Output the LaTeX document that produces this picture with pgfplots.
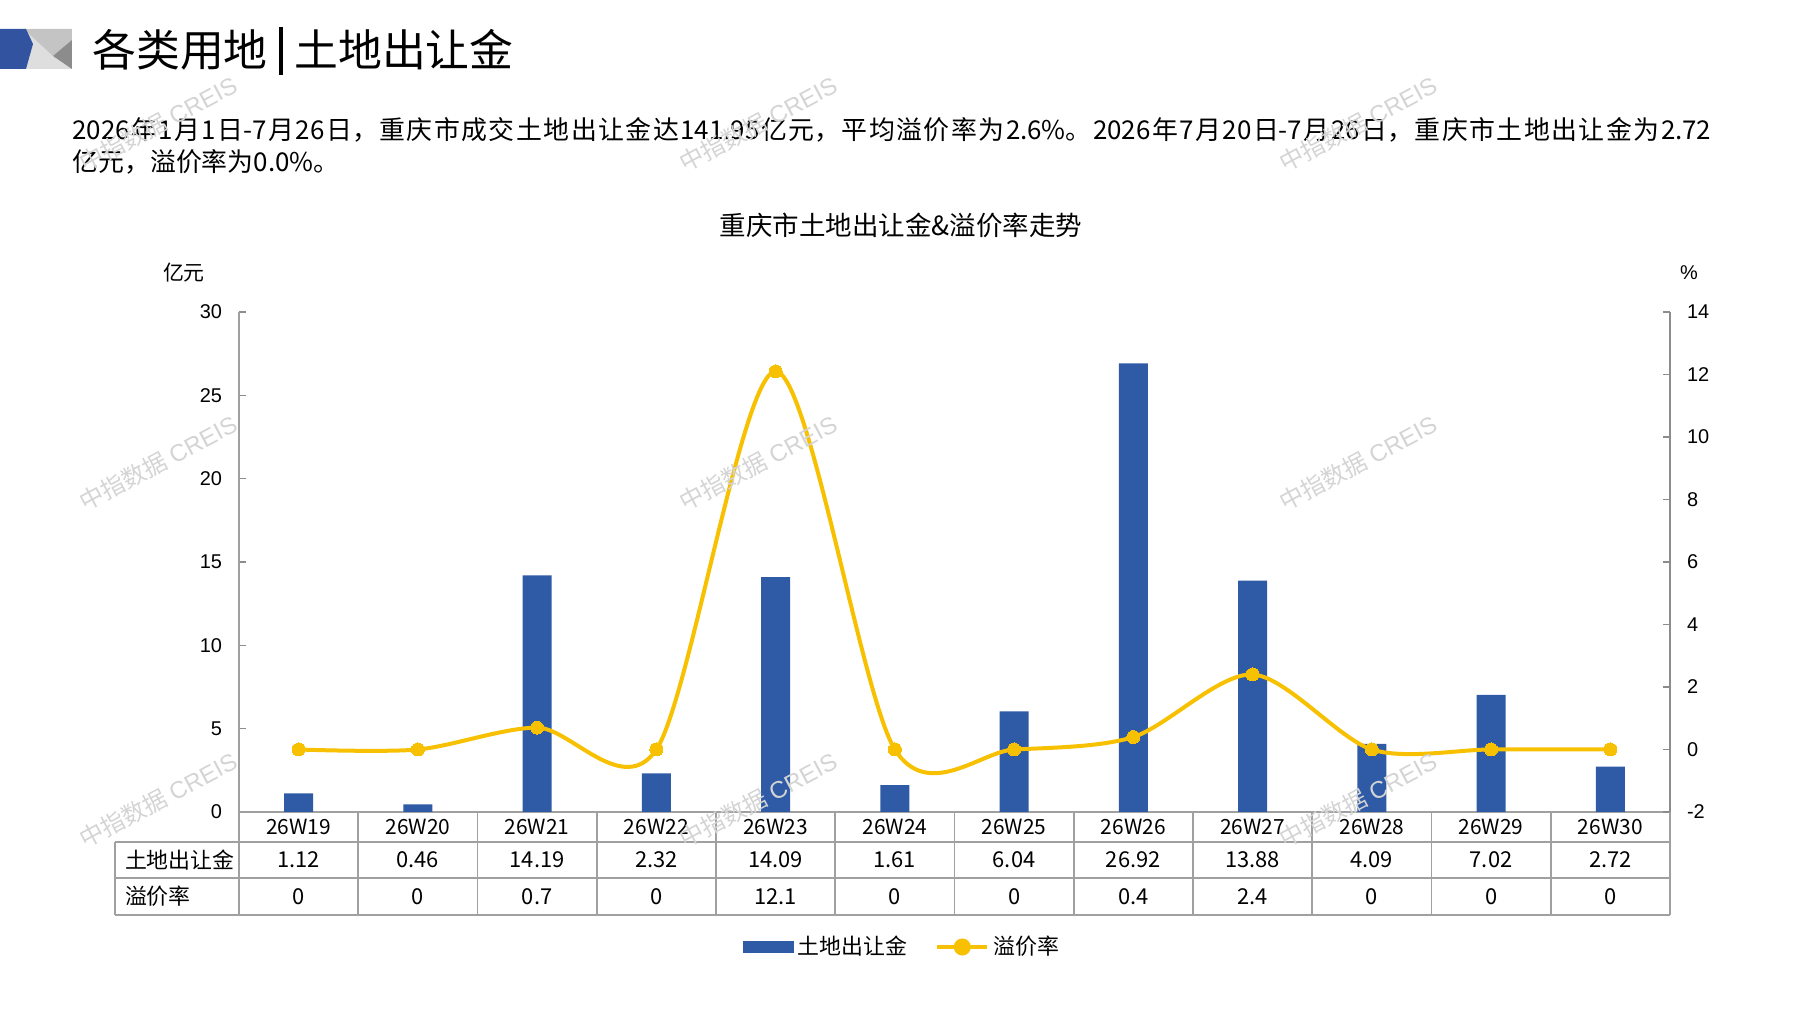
\documentclass[border=0pt]{standalone}
\usepackage{fontspec}
\setmainfont{Noto Sans CJK SC}
\newfontfamily\arial{Liberation Sans}
\usepackage{pgfplots}
\pgfplotsset{compat=1.18}
\usepackage{pgfplotstable}
\definecolor{barblue}{RGB}{46,90,166}
\definecolor{gold}{RGB}{247,192,0}
\definecolor{axgray}{RGB}{140,140,140}
\definecolor{tabgray}{RGB}{160,160,160}
\definecolor{wm}{RGB}{212,212,212}
\definecolor{logoblue}{RGB}{50,84,160}
\definecolor{lg}{RGB}{222,222,222}
\definecolor{mg}{RGB}{196,196,196}
\definecolor{dg}{RGB}{140,140,140}

\pgfplotstableread{
x label amt rate
0 26W19 1.12 0
1 26W20 0.46 0
2 26W21 14.19 0.7
3 26W22 2.32 0
4 26W23 14.09 12.1
5 26W24 1.61 0
6 26W25 6.04 0
7 26W26 26.92 0.4
8 26W27 13.88 2.4
9 26W28 4.09 0
10 26W29 7.02 0
11 26W30 2.72 0
}\landdata

\begin{document}
\begin{tikzpicture}
\useasboundingbox (0,0) rectangle (898.5bp,505bp);

\begin{axis}[
  at={(119.5bp,99bp)}, anchor=south west, scale only axis,
  width=715.5bp, height=250bp,
  xmin=-0.5, xmax=11.5, ymin=0, ymax=30,
  ytick={0,5,...,30},
  xtick={0,...,11},
  xticklabels from table={\landdata}{label},
  axis y line*=left, axis x line*=bottom,
  axis line style={draw=tabgray, line width=0.8bp},
  tick align=inside, major tick length=3.5bp,
  x tick style={draw=none},
  y tick style={draw=axgray, line width=0.8bp},
  yticklabel style={font=\arial\fontsize{10}{12}\selectfont, xshift=-5bp},
  /pgf/number format/assume math mode=true,
  xticklabel style={font=\fontsize{10.5}{12}\selectfont, anchor=center, yshift=-7.5bp},
  clip=false,
]
\addplot[ybar, bar width=14.5bp, fill=barblue, draw=none] table[x=x,y=amt]{\landdata};
\end{axis}

\begin{axis}[
  at={(119.5bp,99bp)}, anchor=south west, scale only axis,
  width=715.5bp, height=250bp,
  xmin=-0.5, xmax=11.5, ymin=-2, ymax=14,
  ytick={-2,0,...,14},
  axis y line*=right, axis x line=none,
  axis line style={draw=axgray, line width=0.8bp},
  tick align=inside, major tick length=3.5bp,
  y tick style={draw=axgray, line width=0.8bp},
  yticklabel style={font=\arial\fontsize{10}{12}\selectfont, xshift=5bp},
  /pgf/number format/assume math mode=true,
  clip=false,
  legend style={at={(axis description cs:0.464,-0.27)}, anchor=center, draw=none, fill=none,
    font=\fontsize{11}{13}\selectfont, legend columns=2,
    /tikz/every even column/.append style={column sep=12bp}},
]
\addlegendimage{legend image code/.code={\fill[barblue] (0bp,-2.75bp) rectangle (25bp,2.75bp);}}
\addlegendentry{土地出让金}
\addplot[gold, line width=2bp, smooth, mark=*, mark size=3.25bp,
  mark options={fill=gold, draw=gold, line width=0bp},
  legend image code/.code={\draw[gold, line width=2bp] (0bp,0bp) -- (25bp,0bp); \fill[gold] (12.5bp,0bp) circle (3.25bp);}]
  table[x=x,y=rate]{\landdata};
\addlegendentry{溢价率}
\end{axis}

\begin{scope}[x=0.5bp, y=-0.5bp, yshift=505bp]
  % logo
  \fill[lg] (24,29) rectangle (72,69);
  \fill[mg] (24,29) -- (72,29) -- (72,40) -- (53,56) -- cycle;
  \fill[dg] (72,40) -- (72,69) -- (53,56) -- cycle;
  \fill[logoblue] (0,29) -- (26,29) -- (33,44) -- (26,69) -- (0,69) -- cycle;
  % title
  \node[anchor=west, inner sep=0, font=\fontsize{22}{25}\selectfont] at (92,50) {各类用地};
  \fill (279,27) rectangle (283,75);
  \node[anchor=west, inner sep=0, font=\fontsize{22}{25}\selectfont] at (294,50) {土地出让金};
  % paragraph
  \node[anchor=base west, inner sep=0] at (72,140) {\parbox[t]{819.5bp}{\fontsize{13}{16}\selectfont\XeTeXlinebreaklocale "zh"\XeTeXlinebreakskip=0pt plus 3pt 2026年1月1日-7月26日，重庆市成交土地出让金达141.95亿元，平均溢价率为2.6\%。2026年7月20日-7月26日，重庆市土地出让金为2.72\linebreak 亿元，溢价率为0.0\%。}};
  % chart title
  \node[font=\fontsize{13.3}{15}\selectfont] at (901,225) {重庆市土地出让金\&溢价率走势};
  \node[font=\fontsize{10.5}{12}\selectfont] at (184,273) {亿元};
  \node[font=\arial\fontsize{10}{12}\selectfont] at (1689,273) {\%};
  % table
  \draw[tabgray, line width=0.8bp] (115,842) -- (1670,842) (115,878) -- (1670,878) (115,915) -- (1670,915) (115,842) -- (115,915);
  \foreach \k in {0,...,12} \draw[tabgray, line width=0.8bp] ({239+119.25*\k},812) -- ({239+119.25*\k},915);
  \node[anchor=west, font=\fontsize{11}{13}\selectfont] at (118,860) {土地出让金};
  \node[anchor=west, font=\fontsize{11}{13}\selectfont] at (118,896.5) {溢价率};
  \foreach \v [count=\i from 0] in {1.12,0.46,14.19,2.32,14.09,1.61,6.04,26.92,13.88,4.09,7.02,2.72}
    \node[font=\fontsize{11}{13}\selectfont] at ({239+119.25*(\i+0.5)},860) {\v};
  \foreach \v [count=\i from 0] in {0,0,0.7,0,12.1,0,0,0.4,2.4,0,0,0}
    \node[font=\fontsize{11}{13}\selectfont] at ({239+119.25*(\i+0.5)},896.5) {\v};
  % watermarks
  \foreach \wx/\wy in {158/124, 758/124, 1358/124, 158/463, 758/463, 1358/463, 158/800, 758/800, 1358/800}
    \node[rotate=28, text=wm, font=\fontsize{12}{14}\selectfont] at (\wx,\wy) {中指数据 {\arial CREIS}};
\end{scope}
\end{tikzpicture}
\end{document}
